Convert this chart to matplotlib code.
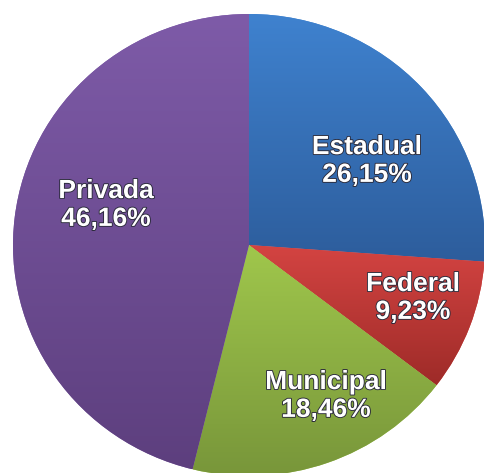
import numpy as np
import matplotlib.pyplot as plt
import matplotlib.patheffects as pe
from matplotlib.colors import LinearSegmentedColormap

# data
categories = ['Estadual', 'Federal', 'Municipal', 'Privada']
values = [26.15, 9.23, 18.46, 46.16]
labels = ['26,15%', '9,23%', '18,46%', '46,16%']

# gradient colours per slice (top, bottom)
grad_top = ['#3f82cf', '#d44442', '#a0c74c', '#7e5ba8']
grad_bot = ['#2d5d9c', '#9e2b28', '#78963a', '#5d3f7e']

# label positions in pixels (x, y from top)
label_px = [(367, 161), (413, 298), (326, 396), (106, 205)]

W, H = 484, 473
cx, cy = 249, 245
rx, ry = 236, 231

fig = plt.figure(figsize=(W / 100, H / 100), dpi=100)
ax = fig.add_axes([0, 0, 1, 1])

wedges, _ = ax.pie(values, startangle=90, counterclock=False,
                   colors=grad_top, wedgeprops=dict(linewidth=0))

for w, c0, c1 in zip(wedges, grad_top, grad_bot):
    bb = w.get_path().get_extents()
    cmap = LinearSegmentedColormap.from_list('g', [c1, c0])
    grad = np.linspace(0, 1, 256).reshape(-1, 1)
    im = ax.imshow(grad, cmap=cmap, extent=[bb.x0, bb.x1, bb.y0, bb.y1],
                   origin='lower', aspect='auto', zorder=w.get_zorder() + 0.1)
    im.set_clip_path(w)

for name, lab, (px, py) in zip(categories, labels, label_px):
    x = (px - cx) / rx
    y = (cy - py) / ry
    ax.text(x, y, name + '\n' + lab, ha='center', va='center',
            color='white', fontsize=19, fontweight='bold',
            family='Liberation Sans', linespacing=1.2, zorder=10,
            path_effects=[pe.withStroke(linewidth=1.3, foreground='#2a2a3a')])

ax.set_aspect('auto')
ax.set_xlim(-cx / rx, (W - cx) / rx)
ax.set_ylim(-(H - cy) / ry, cy / ry)
ax.axis('off')

fig.savefig('out.png', dpi=100)
